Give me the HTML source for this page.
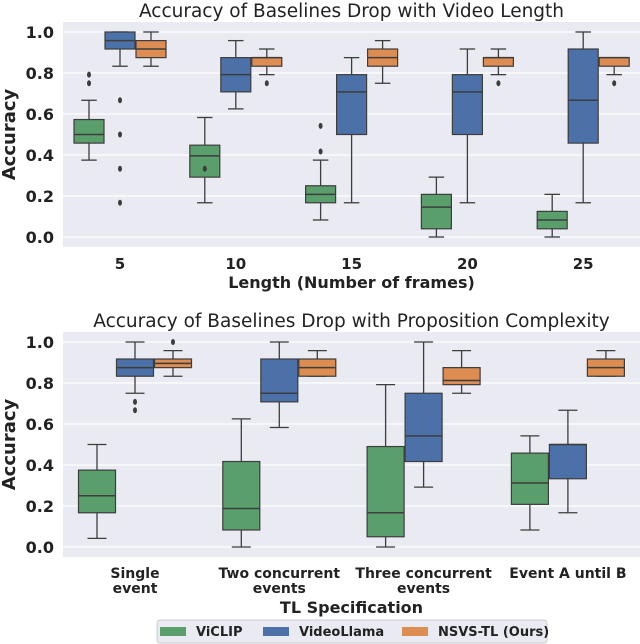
<!DOCTYPE html>
<html><head><meta charset="utf-8"><style>
html,body{margin:0;padding:0;background:#fff;}
svg{display:block;font-family:"DejaVu Sans","Liberation Sans",sans-serif;}
</style></head><body>
<svg id="c" width="640" height="644"></svg>
<script>
const stats=["whiskerLow","q1","median","q3","whiskerHigh"];
const series=["ViCLIP","VideoLlama","NSVS-TL (Ours)"];
const lengthCats=["5","10","15","20","25"];
const lengthViclip=[[.375,.458,.5,.573,.667],[.167,.292,.396,.448,.583],[.083,.167,.208,.25,.375],[0,.04,.146,.208,.292],[0,.04,.083,.125,.208]];
const lengthVideollama=[[.833,.917,.958,1,1],[.625,.708,.792,.875,.958],[.167,.5,.708,.792,.875],[.167,.5,.708,.792,.917],[.167,.458,.667,.917,1]];
const lengthNsvs=[[.833,.875,.917,.958,1],[.792,.833,.875,.875,.917],[.75,.833,.875,.917,.958],[.792,.833,.875,.875,.917],[.792,.833,.875,.875,.875]];
const lengthFliersViclip=[[.75,.792],[.333],[.417,.542],[],[]];
const lengthFliersVideollama=[[.667,.5,.333,.167],[],[],[],[]];
const lengthFliersNsvs=[[],[.75],[],[.75],[.75]];
const tlCats=[["Single","event"],["Two concurrent","events"],["Three concurrent","events"],["Event A until B"]];
const tlViclip=[[.042,.167,.25,.375,.5],[0,.083,.188,.417,.625],[0,.05,.167,.49,.792],[.083,.208,.312,.458,.542]];
const tlVideollama=[[.75,.833,.875,.917,1],[.583,.708,.75,.917,1],[.292,.417,.542,.75,1],[.167,.333,.5,.5,.667]];
const tlNsvs=[[.833,.875,.896,.917,.958],[.833,.833,.875,.917,.958],[.75,.792,.812,.875,.958],[.833,.833,.875,.917,.958]];
const tlFliersViclip=[[],[],[],[]];
const tlFliersVideollama=[[.708,.667],[],[],[]];
const tlFliersNsvs=[[1],[],[],[]];
const yTicks=[0,0.2,0.4,0.6,0.8,1.0];
const colors=["#5a9e6c","#4c70a8","#dd8c52"];
const NS="http://www.w3.org/2000/svg";
const svg=document.getElementById('c');
function mk(t,a,p){const e=document.createElementNS(NS,t);for(const k in a)e.setAttribute(k,a[k]);(p||svg).appendChild(e);return e;}
function panel(o){
  const g=mk('g',{});
  
  
  const y=v=>o.y0-(o.y0-o.y1)*v;
  const bg=mk('rect',{x:o.left,y:o.top,width:o.right-o.left,height:o.bottom-o.top,fill:'#eaeaf2'},g);
  
  
  yTicks.forEach(t=>{
    const l=mk('line',{x1:o.left,x2:o.right,y1:y(t),y2:y(t),stroke:'#fff','stroke-width':1.2},g);
    
    
    const tx=mk('text',{x:54,y:y(t)+6,'text-anchor':'end','font-size':16,'font-weight':'bold',fill:'#222'},g);
    tx.textContent=t.toFixed(1);
    
    
  });
  const t=mk('text',{x:(o.left+o.right)/2,y:o.top-5,'text-anchor':'middle','font-size':18.5,fill:'#222'},g);
  t.textContent=o.title;
  
  
  const yt=mk('text',{x:0,y:0,transform:`translate(15,${(o.top+o.bottom)/2}) rotate(-90)`,'text-anchor':'middle','font-size':18,'font-weight':'bold',fill:'#222'},g);
  yt.textContent='Accuracy';
  
  
  o.cats.forEach((c,i)=>{
    const cx=o.c0+i*o.step;
    const lines=Array.isArray(c)?c:[c];
    lines.forEach((ln,j)=>{
      const tx=mk('text',{x:cx,y:o.tickY+j*15,'text-anchor':'middle','font-size':o.tickFs,'font-weight':'bold',fill:'#222'},g);
      tx.textContent=ln;
      
      
    });
    o.data.forEach((arr,s)=>{
      const d=arr[i];const bx=cx+(s-1)*o.bw;const hw=o.bw/2;
      const bg2=mk('g',{},g);
      
      
      const st='#3d3d3d';
      mk('line',{x1:bx,x2:bx,y1:y(d[0]),y2:y(d[1]),stroke:st,'stroke-width':1.3},bg2);
      mk('line',{x1:bx,x2:bx,y1:y(d[3]),y2:y(d[4]),stroke:st,'stroke-width':1.3},bg2);
      mk('line',{x1:bx-hw/2,x2:bx+hw/2,y1:y(d[0]),y2:y(d[0]),stroke:st,'stroke-width':1.3},bg2);
      mk('line',{x1:bx-hw/2,x2:bx+hw/2,y1:y(d[4]),y2:y(d[4]),stroke:st,'stroke-width':1.3},bg2);
      mk('rect',{x:bx-hw+0.5,y:y(d[3]),width:o.bw-1,height:Math.max(y(d[1])-y(d[3]),0.5),fill:colors[s],stroke:st,'stroke-width':1.2},bg2);
      mk('line',{x1:bx-hw+0.5,x2:bx+hw-0.5,y1:y(d[2]),y2:y(d[2]),stroke:st,'stroke-width':1.5},bg2);
      o.fliers[s][i].forEach(f=>{
        const e=mk('ellipse',{cx:bx,cy:y(f),rx:2,ry:3,fill:st},bg2);
        
        
      });
    });
  });
  const xt=mk('text',{x:(o.left+o.right)/2,y:o.xTitleY,'text-anchor':'middle','font-size':16,'font-weight':'bold',fill:'#222'},g);
  xt.textContent=o.xTitle;
  
  
}
panel({name:'length-panel',title:'Accuracy of Baselines Drop with Video Length',left:63,right:640,top:22,bottom:247,y1:32,y0:237,
  cats:lengthCats,c0:120,step:115.8,bw:31,tickY:269,tickFs:15,xTitle:'Length (Number of frames)',xTitleY:288,
  data:[lengthViclip,lengthVideollama,lengthNsvs],fliers:[lengthFliersViclip,lengthFliersVideollama,lengthFliersNsvs]});
panel({name:'complexity-panel',title:'Accuracy of Baselines Drop with Proposition Complexity',left:63,right:640,top:332,bottom:557,y1:342,y0:547,
  cats:tlCats,c0:135,step:144.3,bw:38,tickY:578,tickFs:14,xTitle:'TL Specification',xTitleY:613,
  data:[tlViclip,tlVideollama,tlNsvs],fliers:[tlFliersViclip,tlFliersVideollama,tlFliersNsvs]});
const lg=mk('g',{});


mk('rect',{x:157,y:620,width:390,height:23,rx:3,fill:'#eaeaf2',stroke:'#ccc'},lg);
const lx=[160,263,402];
series.forEach((s,i)=>{
  const e=mk('g',{},lg);
  
  
  mk('rect',{x:lx[i],y:627,width:26,height:9,fill:colors[i]},e);
  const t=mk('text',{x:lx[i]+36,y:636,'font-size':13,'font-weight':'bold',fill:'#222'},e);
  t.textContent=s;
});
</script>
</body></html>
